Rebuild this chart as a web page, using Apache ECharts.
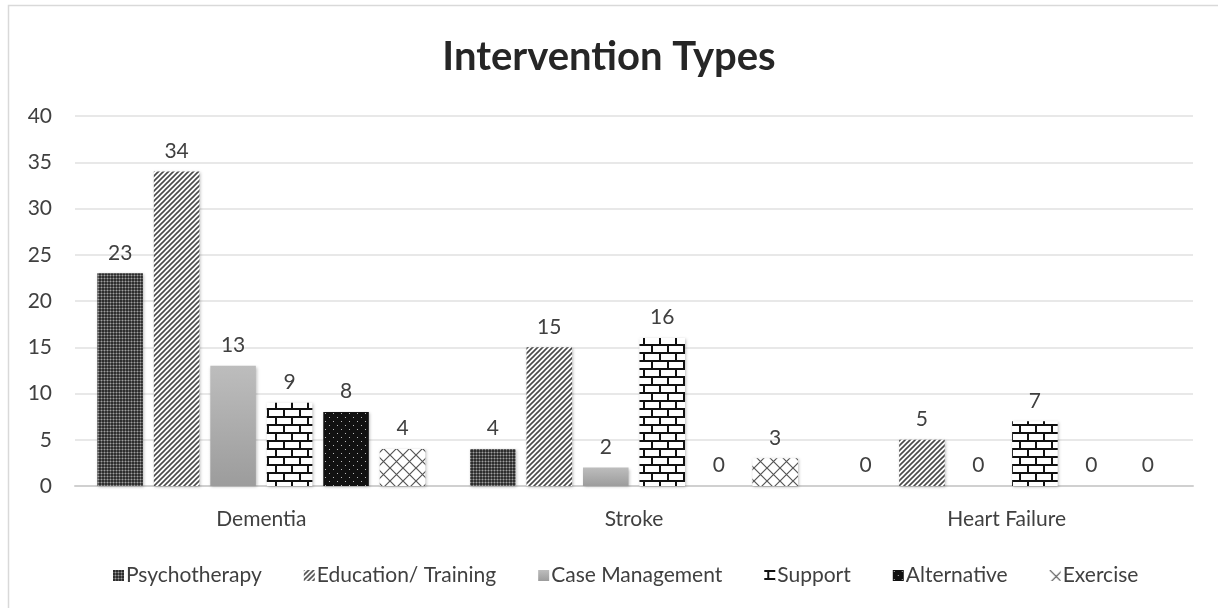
<!DOCTYPE html>
<html>
<head>
<meta charset="utf-8">
<script src="https://cdn.jsdelivr.net/npm/echarts@6/dist/echarts.min.js"></script>
<style>
html,body{margin:0;padding:0;background:#fff;}
#chart{width:1218px;height:608px;}
</style>
</head>
<body>
<div id="chart"></div>
<script>
const categories = ['Dementia', 'Stroke', 'Heart Failure'];
const seriesNames = ['Psychotherapy', 'Education/ Training', 'Case Management', 'Support', 'Alternative', 'Exercise'];
const psychotherapy = [23, 4, 0];
const education = [34, 15, 5];
const caseManagement = [13, 2, 0];
const support = [9, 16, 7];
const alternative = [8, 0, 0];
const exercise = [4, 3, 0];
const yTicks = [0, 5, 10, 15, 20, 25, 30, 35, 40];

function mk(w, h, draw) {
  const c = document.createElement('canvas');
  c.width = w; c.height = h;
  const ctx = c.getContext('2d');
  draw(ctx, w, h);
  return { image: c, repeat: 'repeat' };
}
const patPsych = mk(3, 3, (ctx) => {
  ctx.fillStyle = '#2e2e2e'; ctx.fillRect(0, 0, 3, 3);
  ctx.fillStyle = '#a0a0a0'; ctx.fillRect(2, 2, 1, 1);
  ctx.fillStyle = '#5e5e5e'; ctx.fillRect(2, 0, 1, 2); ctx.fillRect(0, 2, 2, 1);
});
const patEdu = mk(5, 5, (ctx) => {
  ctx.fillStyle = '#ffffff'; ctx.fillRect(0, 0, 5, 5);
  ctx.strokeStyle = '#4a4a4a'; ctx.lineWidth = 1.6;
  ctx.beginPath();
  ctx.moveTo(-1, 6); ctx.lineTo(6, -1);
  ctx.moveTo(-6, 6); ctx.lineTo(1, -1);
  ctx.moveTo(4, 6); ctx.lineTo(11, -1);
  ctx.stroke();
});
const patSupport = mk(16, 16, (ctx) => {
  ctx.fillStyle = '#ffffff'; ctx.fillRect(0, 0, 16, 16);
  ctx.fillStyle = '#111111';
  ctx.fillRect(0, 0, 16, 2);
  ctx.fillRect(0, 8, 16, 2);
  ctx.fillRect(3, 0, 2, 8);
  ctx.fillRect(11, 8, 2, 8);
});
const patAlt = mk(8, 8, (ctx) => {
  ctx.fillStyle = '#111111'; ctx.fillRect(0, 0, 8, 8);
  ctx.fillStyle = '#bbbbbb';
  ctx.fillRect(1, 1, 1, 1);
  ctx.fillRect(5, 5, 1, 1);
});
const patEx = mk(13, 13, (ctx) => {
  ctx.fillStyle = '#ffffff'; ctx.fillRect(0, 0, 13, 13);
  ctx.strokeStyle = '#555555'; ctx.lineWidth = 1.2;
  ctx.beginPath();
  ctx.moveTo(0, 0); ctx.lineTo(13, 13);
  ctx.moveTo(13, 0); ctx.lineTo(0, 13);
  ctx.stroke();
});
const gradCase = {
  type: 'linear', x: 0, y: 0, x2: 0, y2: 1,
  colorStops: [{ offset: 0, color: '#bdbdbd' }, { offset: 1, color: '#9c9c9c' }]
};

const colors = [patPsych, patEdu, gradCase, patSupport, patAlt, patEx];
const dataSets = [psychotherapy, education, caseManagement, support, alternative, exercise];
const FONT = 'Lato, "Open Sans", sans-serif';

const chart = echarts.init(document.getElementById('chart'), null, { renderer: 'canvas' });
chart.setOption({
  animation: false,
  backgroundColor: '#ffffff',
  title: {
    text: 'Intervention Types',
    left: 'center', top: 32,
    textStyle: { fontFamily: FONT, fontSize: 40, fontWeight: 'bold', color: '#262626' }
  },
  graphic: [{
    type: 'rect', shape: { x: 8.5, y: 5.5, width: 1300, height: 700 },
    style: { fill: 'none', stroke: '#d9d9d9', lineWidth: 1.5 }, silent: true
  }],
  legend: {
    left: 108, top: 560,
    itemWidth: 11, itemHeight: 11, itemGap: 42,
    icon: 'rect',
    textStyle: { fontFamily: FONT, fontSize: 21, color: '#404040', padding: [0, 0, 0, -3] },
    data: seriesNames
  },
  grid: { left: 75, right: 25, top: 116, bottom: 122 },
  xAxis: {
    type: 'category', data: categories,
    axisLine: { lineStyle: { color: '#d0d0d0', width: 2 } },
    axisTick: { show: false },
    axisLabel: { fontFamily: FONT, fontSize: 21, color: '#404040', margin: 23 }
  },
  yAxis: {
    type: 'value', min: yTicks[0], max: yTicks[yTicks.length - 1], interval: 5,
    axisLine: { show: false }, axisTick: { show: false },
    splitLine: { lineStyle: { color: '#e0e0e0', width: 1.5 } },
    axisLabel: { fontFamily: FONT, fontSize: 21, color: '#404040', margin: 23 }
  },
  series: seriesNames.map((name, i) => ({
    name, type: 'bar', data: dataSets[i],
    barGap: '24%', barCategoryGap: '12%',
    itemStyle: {
      color: colors[i],
      shadowColor: 'rgba(0,0,0,0.25)', shadowBlur: 3, shadowOffsetX: 1, shadowOffsetY: 1
    },
    label: {
      show: true, position: 'top', distance: 10,
      fontFamily: FONT, fontSize: 21, color: '#404040'
    }
  }))
});
</script>
</body>
</html>
